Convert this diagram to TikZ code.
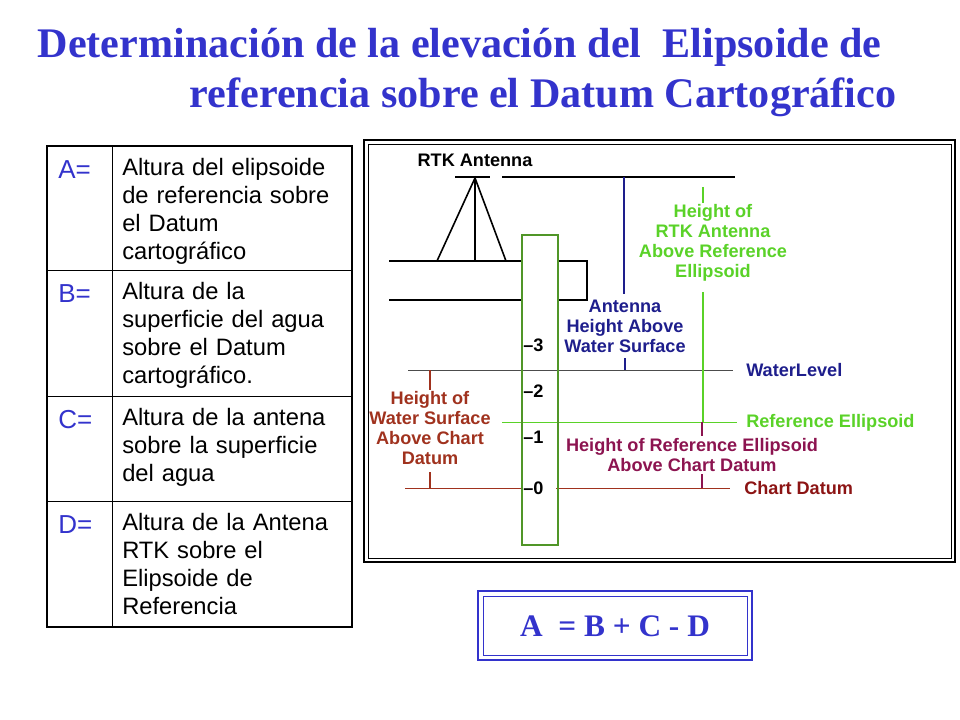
\documentclass[tikz,border=0pt]{standalone}
\usepackage{fontspec}
\setmainfont{Liberation Serif}
\setsansfont{Liberation Sans}
\usetikzlibrary{positioning}
\definecolor{titblue}{RGB}{51,51,204}
\definecolor{lblue}{RGB}{30,30,140}
\definecolor{lgreen}{RGB}{90,210,40}
\definecolor{ggreen}{RGB}{80,150,40}
\definecolor{lbrown}{RGB}{160,50,30}
\definecolor{lred}{RGB}{140,20,20}
\definecolor{lmag}{RGB}{140,20,80}
\tikzset{cell/.style={font=\sffamily\fontsize{17.8}{21}\selectfont, align=left, anchor=north west, text width=230pt, inner sep=0pt},
  letter/.style={font=\sffamily\fontsize{19.5}{22}\selectfont, text=titblue, anchor=north west, inner sep=0pt},
  lab/.style={font=\sffamily\bfseries\fontsize{13.6}{15}\selectfont, align=center, inner sep=0pt}}
\begin{document}
\begin{tikzpicture}[x=0.75pt,y=-0.75pt]
\useasboundingbox (0,0) rectangle (960,720);

% title
\node[font=\bfseries\fontsize{31.6}{36}\selectfont, text=titblue, anchor=west] (t1) at (33,47) {Determinación de la elevación del \ Elipsoide de};
\node[font=\bfseries\fontsize{31.6}{36}\selectfont, text=titblue, anchor=west] (t2) at (185,97) {referencia sobre el Datum Cartográfico};

% table
\draw[line width=1] (47,146) rectangle (352,627);
\draw (112,146)--(112,627);
\draw (47,270)--(352,270);
\draw (47,396)--(352,396);
\draw (47,501)--(352,501);
\node[letter] (la) at (58,160) {A=};
\node[letter] (lb) at (58,284) {B=};
\node[letter] (lc) at (58,410) {C=};
\node[letter] (ld) at (58,515) {D=};
\node[cell] (ca) at (122,158) {Altura del elipsoide\\de referencia sobre\\el Datum\\cartográfico};
\node[cell] (cb) at (122,282) {Altura de la\\superficie del agua\\sobre el Datum\\cartográfico.};
\node[cell] (cc) at (122,408) {Altura de la antena\\sobre la superficie\\del agua};
\node[cell] (cd) at (122,513) {Altura de la Antena\\RTK sobre el\\Elipsoide de\\Referencia};

% frame
\draw[line width=1.2] (364,140) rectangle (955,562);
\draw (368,144) rectangle (951,558);

% antenna and platform
\node[lab] (rtk) at (475,160) {RTK Antenna};
\draw[line width=1.2] (455,177)--(490,177);
\draw[line width=1.2] (502,177)--(735,177);
\draw[line width=1.2] (437,261)--(475,178)--(506,261);
\draw[line width=1.2] (475,178)--(475,261);
\draw[line width=1.2] (389,261)--(522,261);
\draw[line width=1.2] (558,261)--(587,261)--(587,300)--(558,300);
\draw[line width=1.2] (389,300)--(522,300);

% water level, ellipsoid, chart datum
\draw[gray!60!black] (408,370)--(733,370);
\node[lab, text=lblue, anchor=west] (wl) at (746,370) {WaterLevel};
\draw[lgreen] (502,422)--(737,422);
\node[lab, text=lgreen, anchor=west] (re) at (746,423) {Reference Ellipsoid};
\draw[lbrown] (405,488)--(522,488);
\draw[lbrown] (556,488)--(730,488);
\node[lab, text=lred, anchor=west] (cd0) at (744,488) {Chart Datum};

% gauge
\draw[ggreen, line width=1.5] (522,235) rectangle (558,545);
\foreach \v/\y in {3/345,2/391,1/437,0/488}
  \node[lab, anchor=west, inner sep=0pt] (g\v) at (523,\y) {--\v};

% antenna height above water
\draw[lblue, line width=1.1] (624,177)--(624,294);
\node[lab, text=lblue] (ah) at (625,326) {Antenna\\Height Above\\Water Surface};
\draw[lblue, line width=1.1] (625,358)--(625,370);

% RTK above ellipsoid
\draw[lgreen, line width=1.1] (703,187)--(703,203);
\node[lab, text=lgreen] (hr) at (713,243) {Height of\\RTK Antenna\\Above Reference\\Ellipsoid};
\draw[lgreen, line width=1.1] (703,292)--(703,422);

% water above chart datum
\draw[lbrown, line width=1.1] (430,370)--(430,390);
\node[lab, text=lbrown] (hw) at (430,428) {Height of\\Water Surface\\Above Chart\\Datum};
\draw[lbrown, line width=1.1] (430,472)--(430,488);

% ellipsoid above chart datum
\draw[lmag, line width=1.1] (702,422)--(702,436);
\node[lab, text=lmag] (he) at (692,455) {Height of Reference Ellipsoid\\Above Chart Datum};
\draw[lmag, line width=1.1] (702,474)--(702,488);

% equation
\draw[titblue, line width=1] (478,591) rectangle (752,660);
\draw[titblue] (483,596) rectangle (747,655);
\node[font=\bfseries\fontsize{23.5}{28}\selectfont, text=titblue] (eq) at (615,626) {A \ = B + C - D};
\end{tikzpicture}
\end{document}
